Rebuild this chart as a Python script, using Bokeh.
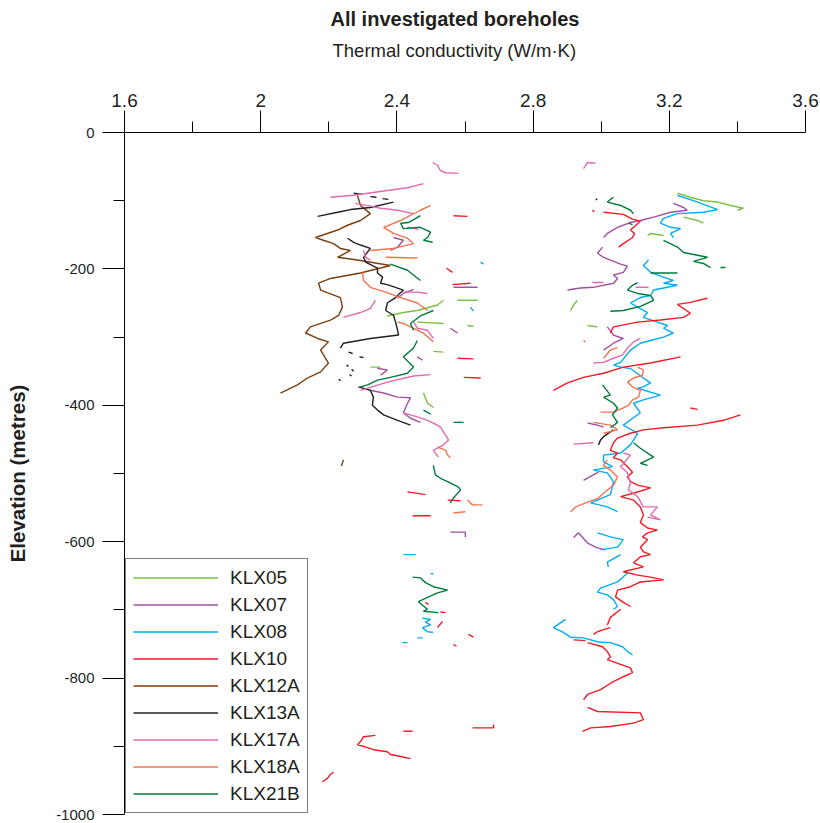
import numpy as np
from bokeh.plotting import figure
from bokeh.models import (Range1d, FixedTicker, Legend, LegendItem, Title,
                          CustomJSTickFormatter, ColumnDataSource)
from bokeh.embed import file_html
from bokeh.resources import INLINE

nan = float("nan")

# ---------------- data (thermal conductivity W/m·K, elevation m) ----------------
KLX05_tc = [3.224, 3.262, 3.300, 3.342, 3.380, 3.418, 3.400, nan,
            3.242, 3.283, 3.300, nan,
            3.136, 3.145, 3.183, nan,
            2.930, 2.919, 2.910, nan,
            2.960, 2.989, nan,
            2.372, 2.419, 2.460, 2.519, 2.537, nan,
            2.460, 2.537, nan,
            2.578, 2.637, nan, 2.607, 2.625, nan,
            2.507, 2.537, nan, 2.322, 2.352, nan,
            2.478, 2.490, 2.499, 2.507]
KLX05_elev = [-89, -95, -100, -102, -107, -111, -114, nan,
              -124, -129, -133, nan,
              -151, -148, -151, nan,
              -246, -253, -261, nan,
              -283, -285, nan,
              -269, -264, -261, -253, -246, nan,
              -278, -280, nan,
              -246, -246, nan, -283, -284, nan,
              -321, -322, nan, -344, -344, nan,
              -382, -397, -400, -403]

KLX07_tc = [3.212, 3.242, 3.253, 3.204, 3.154, 3.115, 3.086, 3.048, 3.018, 3.007, nan,
            3.004, 2.989, 3.007, 3.027, 3.057, 3.077, 3.065, 3.036, 3.048, 3.036, 2.977, 2.939, 2.901, nan,
            3.018, 3.036, 3.065, 3.036, 3.007, nan,
            2.960, 2.989, 3.007, nan, 2.948, 2.977, 2.992, nan,
            2.919, 2.933, 2.960, 2.989, 3.013, nan,
            2.390, 2.419, 2.402, 2.381, nan,
            2.449, 2.419, 2.402, nan,
            2.566, 2.637, nan,
            2.557, 2.578, nan, 2.460, 2.475, nan,
            2.343, 2.372, 2.352, nan,
            2.322, 2.361, 2.402, 2.440, 2.431, 2.419, 2.440, 2.469, nan,
            2.557, 2.601, 2.601]
KLX07_elev = [-104, -110, -114, -117, -124, -129, -132, -139, -148, -154, nan,
              -168, -177, -183, -187, -193, -196, -205, -209, -214, -221, -227, -228, -231, nan,
              -285, -297, -302, -309, -319, nan,
              -426, -429, -432, nan, -510, -502, -498, nan,
              -594, -587, -602, -609, -612, nan,
              -154, -158, -168, -173, nan,
              -230, -236, -243, nan,
              -227, -227, nan,
              -287, -294, nan, -329, -334, nan,
              -346, -348, -356, nan,
              -378, -382, -388, -389, -397, -411, -419, -425, nan,
              -586, -586, -593]

KLX08_tc = [3.224, 3.283, 3.342, 3.300, 3.224, 3.183, 3.174, 3.204, 3.233, 3.204, 3.212, nan,
            3.139, 3.124, 3.145, 3.183, 3.212, 3.183, 3.224, 3.183, 3.154, 3.145, 3.115, 3.086,
            3.107, 3.136, 3.124, 3.165, 3.195, 3.183, 3.212, 3.183, 3.145, 3.115, 3.086, 3.057,
            3.036, 3.057, 3.086, 3.124, 3.145, 3.124, 3.107, 3.174, 3.124, 3.095, 3.115, 3.065,
            3.107, 3.086, 3.057, 3.007, 3.007, 3.033, 2.977, 3.018, 3.036, 3.027, 2.969, 3.018, 3.048, nan,
            2.989, 3.027, 3.065, 3.048, 2.998, nan, 3.057, 3.018, 3.021, nan,
            3.077, 3.048, 2.998, 2.989, 3.018, 3.036, 3.048, 3.036, nan,
            2.895, 2.860, 2.889, 2.910, 2.948, 2.992, 3.027, 3.063, 3.077, 3.092, nan,
            2.646, 2.654, nan, 2.616, 2.625, nan, 2.419, 2.455, nan, 2.499, 2.507, nan,
            2.475, 2.499, 2.484, 2.499, 2.475, 2.490, 2.507, nan,
            2.416, 2.431, nan, 2.460, 2.475]
KLX08_elev = [-92, -102, -113, -117, -119, -126, -133, -139, -141, -148, -154, nan,
              -187, -195, -205, -212, -217, -221, -224, -228, -231, -239, -242, -250,
              -256, -264, -271, -278, -283, -287, -294, -300, -305, -309, -319, -337,
              -341, -344, -346, -360, -367, -373, -375, -385, -392, -397, -411, -429,
              -441, -458, -470, -473, -483, -490, -495, -499, -512, -531, -543, -549, -556, nan,
              -587, -593, -597, -608, -612, nan, -619, -630, -637, nan,
              -646, -659, -668, -674, -678, -685, -695, -699, nan,
              -714, -726, -733, -740, -741, -747, -748, -754, -761, -766, nan,
              -190, -193, nan, -256, -262, nan, -619, -619, nan, -647, -647, nan,
              -712, -714, -718, -722, -726, -732, -733, nan,
              -748, -748, nan, -741, -741]

KLX10_tc = [2.974, 2.980, nan,
            3.007, 3.065, 3.092, 3.115, 3.086, 3.098, 3.092, 3.065, 3.051, nan,
            3.312, 3.262, 3.224, 3.262, 3.242, 3.174, 3.107, 3.036, 3.027, nan,
            3.233, 3.145, 3.065, 3.007, 2.948, 2.901, 2.860, nan,
            3.409, 3.359, 3.283, 3.183, 3.124, 3.086, 3.048, 3.036, 3.027, 3.048, 3.036, 3.057,
            3.077, 3.092, 3.077, 3.086, 3.107, 3.145, 3.095, 3.057, 3.095, 3.115, 3.124, 3.115,
            3.136, 3.165, 3.136, 3.121, 3.136, 3.115, 3.124, 3.145, 3.115, 3.095, 3.124, 3.065,
            3.107, 3.145, 3.183, 3.115, 3.086, 3.048, 3.042, 3.065, 3.086, nan,
            3.057, 3.027, 3.018, nan, 3.027, 3.007, 2.989, 2.977, nan, 2.919, 2.954, nan,
            2.960, 3.004, 3.018, 3.027, 3.018, 3.057, 3.086, 3.092, 3.065, 3.036, 2.998, 2.960, 2.948, nan,
            2.960, 2.989, 3.115, 3.124, 3.095, 3.027, 2.969, 2.945, nan,
            3.262, 3.283, nan,
            2.566, 2.607, nan, 2.546, 2.563, nan, 2.563, 2.616, nan, 2.578, 2.625, nan,
            2.596, 2.646, nan, 2.431, 2.484, nan, 2.549, 2.587, nan, 2.446, 2.499, nan,
            2.484, 2.493, nan, 2.528, 2.543, nan, 2.534, 2.519, nan, 2.610, 2.625, nan,
            2.566, 2.575, nan, 2.419, 2.446, nan, 2.622, 2.684, 2.684, nan,
            2.337, 2.302, 2.293, 2.284, 2.302, 2.331, 2.372, 2.381, 2.411, 2.440, nan,
            2.181, 2.196, 2.205, 2.214]
KLX10_elev = [-114, -116, nan,
              -117, -120, -127, -130, -143, -148, -154, -163, -168, nan,
              -243, -249, -252, -265, -271, -275, -278, -285, -294, nan,
              -329, -338, -344, -353, -359, -367, -378, nan,
              -414, -422, -429, -433, -436, -441, -448, -455, -466, -470, -477, -480,
              -490, -498, -505, -512, -517, -521, -529, -534, -539, -549, -561, -572,
              -580, -583, -587, -593, -597, -608, -615, -619, -622, -631, -637, -644,
              -649, -652, -656, -659, -666, -671, -681, -689, -695, nan,
              -699, -711, -722, nan, -726, -729, -732, -736, nan, -744, -745, nan,
              -748, -754, -761, -769, -773, -780, -785, -792, -798, -805, -817, -824, -832, nan,
              -843, -849, -851, -861, -866, -871, -873, -878, nan,
              -404, -406, nan,
              -122, -123, nan, -199, -205, nan, -223, -221, nan, -331, -332, nan,
              -359, -360, nan, -527, -531, nan, -539, -540, nan, -562, -562, nan,
              -689, -692, nan, -703, -704, nan, -717, -726, nan, -736, -740, nan,
              -751, -753, nan, -878, -878, nan, -873, -873, -868, nan,
              -884, -886, -893, -898, -900, -905, -908, -912, -915, -918, nan,
              -952, -947, -941, -938]

KLX12A_tc = [2.284, 2.293, 2.322, 2.293, 2.255, 2.226, 2.161, 2.184, 2.214, 2.234, 2.264, 2.226,
             2.284, 2.381, 2.293, 2.205, 2.170, 2.176, 2.234, 2.240, 2.229, 2.205, 2.146, 2.132,
             2.167, 2.199, 2.176, 2.199, 2.176, 2.137, 2.108, 2.058, nan, 2.243, 2.237]
KLX12A_elev = [-92, -107, -119, -129, -136, -143, -154, -158, -163, -170, -173, -183,
               -187, -195, -206, -214, -221, -231, -242, -256, -268, -275, -285, -294,
               -302, -307, -319, -338, -351, -360, -370, -382, nan, -480, -489]

KLX13A_tc = [2.273, 2.299, nan, 2.322, 2.340, nan, 2.358, 2.375, nan,
             2.167, 2.226, 2.264, 2.322, 2.390, nan,
             2.255, 2.273, 2.293, 2.322, 2.302, 2.308, 2.343, 2.343, 2.358, 2.352, 2.372, 2.419,
             2.396, 2.372, 2.367, 2.390, 2.396, 2.402, 2.405, 2.322, 2.243, 2.234, nan,
             2.258, 2.270, nan, 2.290, 2.302, nan, 2.252, 2.258, nan, 2.267, 2.273, nan,
             2.261, 2.267, nan, 2.229, 2.235, nan,
             2.287, 2.322, 2.331, 2.328, 2.343, 2.361, 2.402, 2.440, nan,
             3.036, 3.027, 3.007, 2.998, 2.992, nan, 2.984, 2.988]
KLX13A_elev = [-89, -91, nan, -94, -95, nan, -97, -98, nan,
               -123, -117, -113, -110, -102, nan,
               -155, -161, -165, -170, -183, -190, -199, -206, -212, -221, -223, -231,
               -242, -250, -261, -268, -278, -290, -297, -302, -309, -316, nan,
               -322, -324, nan, -329, -330, nan, -341, -343, nan, -347, -350, nan,
               -355, -357, nan, -362, -364, nan,
               -373, -378, -388, -400, -407, -414, -422, -429, nan,
               -436, -439, -446, -451, -458, nan, -97, -99]

KLX17A_tc = [2.505, 2.519, 2.528, 2.543, 2.581, nan,
             2.205, 2.273, 2.372, 2.431, 2.478, nan,
             2.278, 2.322, 2.352, 2.402, 2.449, nan,
             2.431, 2.463, nan,
             2.302, 2.308, 2.322, nan,
             2.243, 2.293, 2.322, 2.337, nan,
             2.419, 2.460, 2.490, nan,
             2.449, 2.460, 2.490, 2.507, nan,
             2.293, 2.372, 2.449, 2.499, nan,
             2.419, 2.460, 2.490, 2.507, 2.528, 2.552, 2.537, 2.507, 2.522, nan,
             2.948, 2.960, 2.983, nan,
             2.974, 3.007, nan, 3.101, 3.139, nan,
             3.115, 3.095, 3.077, 3.063, 3.036, 3.007, 2.977, nan,
             2.919, 2.977, nan,
             3.065, 3.086, 3.057, 3.077, 3.086, 3.080, 3.107, 3.124, 3.165, 3.145, 3.174, 3.136]
KLX17A_elev = [-44, -48, -56, -59, -60, nan,
               -95, -92, -85, -81, -75, nan,
               -104, -108, -111, -114, -119, nan,
               -139, -142, nan,
               -173, -183, -187, nan,
               -271, -264, -258, -246, nan,
               -234, -234, -236, nan,
               -278, -287, -290, -302, nan,
               -378, -366, -357, -355, nan,
               -411, -417, -422, -426, -432, -451, -458, -466, -476, nan,
               -53, -44, -45, nan,
               -220, -220, nan, -227, -227, nan,
               -302, -307, -316, -326, -331, -337, -338, nan,
               -457, -455, nan,
               -470, -473, -490, -499, -514, -524, -534, -549, -549, -561, -568, -564]

KLX18A_tc = [2.499, 2.469, 2.411, 2.361, 2.390, 2.431, 2.449, 2.390, 2.322, nan,
             2.367, 2.460, nan,
             2.299, 2.302, 2.322, 2.367, 2.411, 2.460, 2.490, nan,
             2.402, 2.419, 2.440, 2.478, 2.507, nan,
             2.519, 2.543, 2.549, 2.557, nan,
             2.566, 2.601, nan, 2.607, 2.622, 2.651, nan,
             3.048, 3.027, 3.007, nan,
             3.107, 3.124, 3.121, 3.095, 3.077, 3.092, 3.115, 3.110, 3.092, 3.080, 3.063, 3.036, 2.998, nan,
             2.977, 3.027, 3.048, 3.007, nan,
             3.018, 3.007, 3.027, 3.048, 3.036, 3.007, 2.992, 2.960, 2.925, 2.910, nan,
             2.948, 2.954]
KLX18A_elev = [-107, -114, -129, -139, -148, -155, -163, -170, -173, nan,
               -183, -184, nan,
               -205, -217, -227, -234, -242, -250, -261, nan,
               -278, -280, -285, -294, -307, nan,
               -461, -466, -473, -477, nan,
               -558, -556, nan, -539, -546, -546, nan,
               -315, -319, -331, nan,
               -344, -348, -356, -360, -366, -373, -378, -388, -392, -400, -404, -410, -410, nan,
               -425, -429, -436, -441, nan,
               -480, -488, -495, -505, -517, -529, -536, -542, -549, -556, nan,
               -305, -307]

KLX21B_tc = [3.036, 3.018, 3.057, 3.086, 3.095, nan, 3.080, 3.092, nan,
             3.183, 3.224, 3.242, 3.283, 3.312, 3.271, 3.300, 3.321, nan, 3.350, 3.365, nan,
             3.145, 3.224, nan,
             3.107, 3.092, 3.077, 3.107, 3.145, 3.154, 3.115, 3.065, 3.027, nan,
             3.004, 3.027, 3.007, 3.036, 3.048, 3.033, 3.048, 3.027, nan,
             3.095, 3.115, 3.154, 3.115, 3.136, nan,
             2.469, 2.434, 2.411, 2.419, 2.469, 2.499, 2.490, 2.478, 2.505, nan,
             2.381, 2.431, 2.469, nan,
             2.507, 2.469, 2.440, 2.449, nan,
             2.460, 2.449, 2.419, 2.449, 2.431, 2.381, 2.343, 2.314, 2.293, nan,
             2.478, 2.499, nan, 2.566, 2.596, nan,
             2.507, 2.513, 2.528, 2.549, 2.581, 2.587, 2.566, 2.557, nan,
             2.446, 2.469, 2.484, 2.507, 2.549, 2.519, 2.463, 2.490, 2.478, 2.522]
KLX21B_elev = [-95, -102, -107, -114, -119, nan, -133, -135, nan,
               -158, -168, -176, -180, -183, -189, -192, -198, nan, -198, -198, nan,
               -206, -206, nan,
               -220, -224, -231, -236, -239, -246, -255, -261, -262, nan,
               -370, -385, -388, -397, -404, -414, -425, -433, nan,
               -455, -463, -476, -485, -488, nan,
               -122, -132, -133, -141, -139, -146, -154, -158, -161, nan,
               -193, -202, -217, nan,
               -261, -269, -280, -290, nan,
               -305, -316, -329, -344, -353, -359, -363, -370, -373, nan,
               -407, -413, nan, -425, -425, nan,
               -488, -502, -507, -512, -520, -524, -536, -543, nan,
               -652, -653, -660, -666, -671, -675, -688, -699, -702, -704]

boreholes = ["KLX05", "KLX07", "KLX08", "KLX10", "KLX12A", "KLX13A", "KLX17A", "KLX18A", "KLX21B"]
series_tc = [KLX05_tc, KLX07_tc, KLX08_tc, KLX10_tc, KLX12A_tc, KLX13A_tc, KLX17A_tc, KLX18A_tc, KLX21B_tc]
series_elev = [KLX05_elev, KLX07_elev, KLX08_elev, KLX10_elev, KLX12A_elev, KLX13A_elev,
               KLX17A_elev, KLX18A_elev, KLX21B_elev]
colors = ["#7ac143", "#a0509f", "#00aeef", "#ed1c24", "#7b3f0e", "#231f20", "#e06bb0", "#f47350", "#007a3d"]

x_major = [1.6, 2.0, 2.4, 2.8, 3.2, 3.6]
x_minor = [1.8, 2.2, 2.6, 3.0, 3.4]
y_major = [0, -200, -400, -600, -800, -1000]
y_minor = [-100, -300, -500, -700, -900]

FONT = "Liberation Sans"
TXT = "#231f20"

p = figure(frame_width=681, frame_height=682,
           x_range=Range1d(1.6, 3.6), y_range=Range1d(-1000, 0),
           x_axis_location="above", output_backend="svg", toolbar_location=None,
           min_border_left=124, min_border_top=132, min_border_right=15, min_border_bottom=9)
p.outline_line_color = None
p.grid.visible = False
p.background_fill_color = "white"
p.title.text = ""

p.xaxis.ticker = FixedTicker(ticks=x_major, minor_ticks=x_minor)
p.yaxis.ticker = FixedTicker(ticks=y_major, minor_ticks=y_minor)
p.xaxis.formatter = CustomJSTickFormatter(code="return String(Math.round(tick*10)/10)")
p.yaxis.formatter = CustomJSTickFormatter(code="return String(Math.round(tick))")

for ax in (p.xaxis, p.yaxis):
    ax.axis_line_color = "black"
    ax.axis_line_width = 1
    ax.major_tick_line_color = "black"
    ax.minor_tick_line_color = "black"
    ax.major_tick_out = 22
    ax.major_tick_in = 0
    ax.minor_tick_out = 11
    ax.minor_tick_in = 0
    ax.major_label_text_font = FONT
    ax.major_label_text_color = TXT

p.xaxis.major_label_text_font_size = "19px"
p.xaxis.major_label_standoff = 4
p.yaxis.major_label_text_font_size = "15px"
p.yaxis.major_label_standoff = 8

p.yaxis.axis_label = "Elevation (metres)"
p.yaxis.axis_label_text_font = FONT
p.yaxis.axis_label_text_font_style = "bold"
p.yaxis.axis_label_text_font_size = "20.5px"
p.yaxis.axis_label_text_color = TXT
p.yaxis.axis_label_standoff = 24

items = []
for name, xs, ys, c in zip(boreholes, series_tc, series_elev, colors):
    src = ColumnDataSource(dict(x=np.array(xs, dtype=float), y=np.array(ys, dtype=float)))
    r = p.line("x", "y", source=src, line_color=c, line_width=1.4)
    items.append(LegendItem(label=name, renderers=[r]))

legend = Legend(items=items, location="bottom_left", margin=1, padding=7, spacing=4,
                glyph_width=85, glyph_height=23, label_height=23, label_standoff=12,
                label_text_font=FONT, label_text_font_size="19px", label_text_color=TXT,
                border_line_color="black", border_line_width=1, background_fill_alpha=1)
p.add_layout(legend)

xlabel = Title(text="Thermal conductivity (W/m·K)", align="left", offset=208, standoff=59,
               text_font=FONT, text_font_style="normal", text_font_size="18.5px", text_color=TXT)
p.add_layout(xlabel, "above")
main_title = Title(text="All investigated boreholes", align="left", offset=206, standoff=-43,
                   text_font=FONT, text_font_style="bold", text_font_size="20px", text_color=TXT)
p.add_layout(main_title, "above")

open("out.html", "w").write(file_html(p, INLINE))
